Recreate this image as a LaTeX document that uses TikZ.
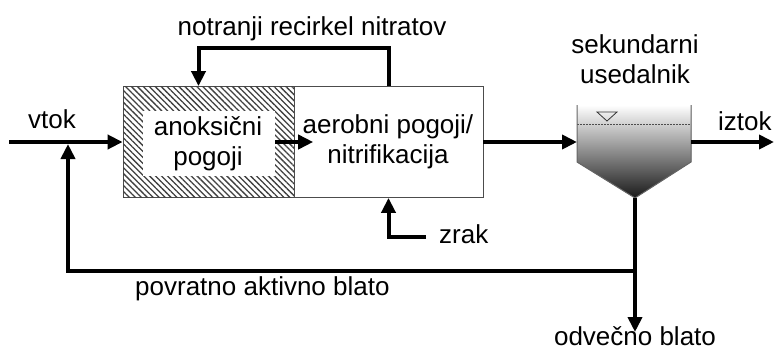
\documentclass[tikz,border=0pt]{standalone}
\usepackage{fontspec}
\setmainfont{Liberation Sans}
\usetikzlibrary{arrows.meta,patterns.meta,positioning}
\tikzstyle{flow}=[line width=4pt,%
                  -{Triangle[length=15pt,width=14pt]}]
\tikzstyle{reactor}=[draw=black!70, rectangle, line width=0.8pt, minimum height=111pt, inner sep=0pt]
\tikzstyle{txt}=[font=\fontsize{26}{30}\selectfont, align=center, inner sep=0pt]

\begin{document}
\begin{tikzpicture}[x=1pt,y=-1pt]
            \useasboundingbox (0,0) rectangle (774,359);
            % reaktorja
            \node[reactor, minimum width=171pt, fill=white,
                  postaction={pattern={Lines[angle=-45,distance=4.2pt,line width=1.3pt]}, pattern color=black!75}] (anox) at (208.5,142) {};
            \node[fill=white, minimum width=132pt, minimum height=65pt, inner sep=0pt] (anoxbox) at (209,143) {};
            \node[txt, anchor=base] (anoxtxt) at (208,165) {anoksični\\pogoji};
            \node[reactor, minimum width=189pt] (aer) at (388.5,142) {};
            \node[txt, anchor=base] (aertxt) at (388,163) {aerobni pogoji/\\nitrifikacija};
            % usedalnik
            \coordinate (usl) at (577,142);
            \coordinate (usr) at (691,142);
            \coordinate (dno) at (635,198);
            \fill[top color=white, bottom color=black!90] (577,105) -- (577,162) -- (dno) -- (691,162) -- (691,105) -- cycle;
            \draw[black!70, dash pattern=on 1.5pt off 1.5pt] (577,124) -- (691,124);
            \draw[black!80, line width=0.8pt] (597,112) -- (617,112) -- (607,121) -- cycle;
            \draw[black!60, line width=1pt] (577,105) -- (577,162) -- (dno) -- (691,162) -- (691,105);
            % tocke
            \coordinate (vhod) at (9,142);
            \coordinate (mesanje) at (68,142);
            \coordinate (izhod) at (774,142);
            \coordinate (razcep) at (635,271);
            \coordinate (odvod) at (635,332);
            \coordinate (zrak) at (426,237);
            % napisi
            \node[txt, anchor=base] (t1) at (312,35) {notranji recirkel nitratov};
            \node[txt, anchor=base] (t2) at (52,128) {vtok};
            \node[txt, anchor=base west] (t3) at (439,243) {zrak};
            \node[txt, anchor=base] (t4) at (635,83) {sekundarni\\usedalnik};
            \node[txt, anchor=base west] (t5) at (718,130) {iztok};
            \node[txt, anchor=base west] (t6) at (135,295) {povratno aktivno blato};
            \node[txt, anchor=base] (t7) at (635,345) {odvečno blato};
            % tokovi
            \draw [flow] (vhod) -- (anox.west);
            \draw [flow] (anoxbox.east |- aer.east) -- ++(38,0);
            \draw [flow] (aer.east) -- (usl);
            \draw [flow] (usr) -- (izhod);
            \draw [flow] (aer.north) -- ++(0,-38) -| ([xshift=-10pt]anox.north);
            \draw [flow] (zrak) -| (aer.south);
            \draw [flow] (dno) -- (odvod);
            \draw [flow, shorten >=2pt] (razcep) -| (mesanje);
  \end{tikzpicture}
\end{document}
